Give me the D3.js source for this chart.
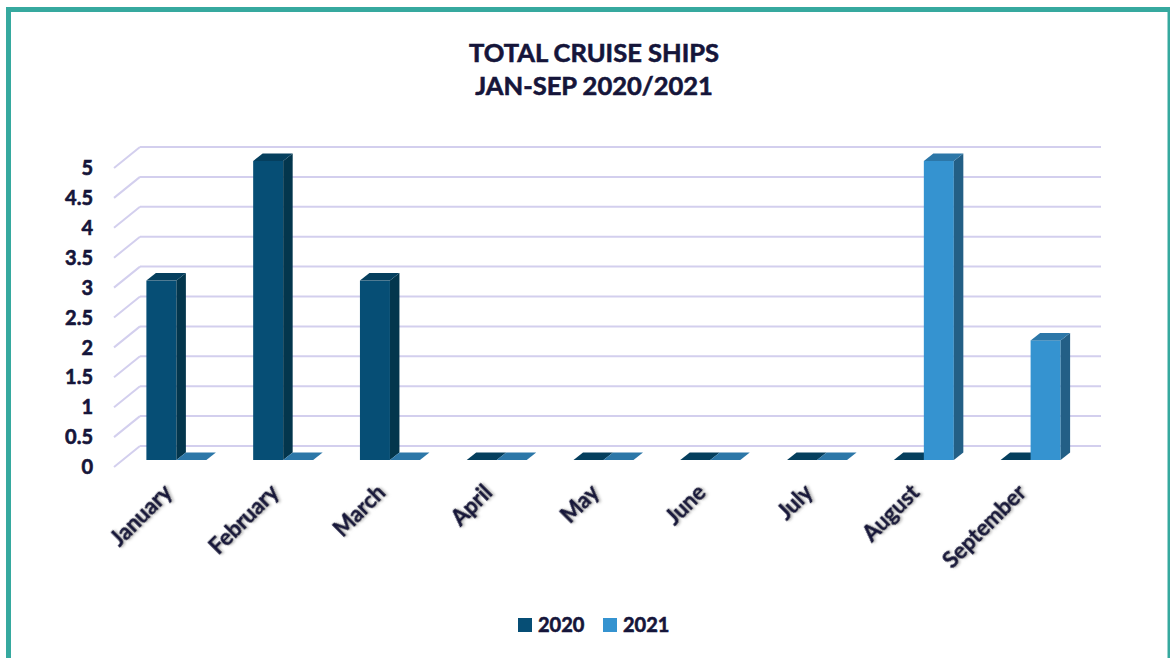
<!DOCTYPE html>
<html>
<head>
<meta charset="utf-8">
<script src="https://cdn.jsdelivr.net/npm/d3@7"></script>
<style>
  html, body { margin: 0; padding: 0; background: #fff; }
  svg { display: block; }
  text { font-family: Lato, "Open Sans", sans-serif; font-weight: 700; fill: #15153a; stroke: #15153a; stroke-width: 0.6px; }
</style>
</head>
<body>
<svg id="chart" width="1170" height="658"></svg>
<script>
// ---- data ----
const months = ["January","February","March","April","May","June","July","August","September"];
const series = ["2020","2021"];
const values2020 = [3,5,3,0,0,0,0,0,0];
const values2021 = [0,0,0,0,0,0,0,5,2];
const yTickValues = [0,0.5,1,1.5,2,2.5,3,3.5,4,4.5,5];
const yTickLabels = ["0","0.5","1","1.5","2","2.5","3","3.5","4","4.5","5"];
const titleLines = ["TOTAL CRUISE SHIPS","JAN-SEP 2020/2021"];

// ---- styles ----
const colors = {
  "2020": {front:"#064E75", side:"#03364D", top:"#053F5E"},
  "2021": {front:"#3593D0", side:"#235F86", top:"#2C77A8"}
};
const W = 1170, H = 658;
const depthX = 9.5, depthY = -7.5;   // bar depth
const gridBackDX = 17, gridBackDY = -14, gridFrontDX = -9, gridFrontDY = 7;

const svg = d3.select("#chart");

// defs: shadow for category labels
const defs = svg.append("defs");
const f = defs.append("filter").attr("id","shadow").attr("x","-20%").attr("y","-20%").attr("width","140%").attr("height","140%");
f.append("feDropShadow").attr("dx",1.5).attr("dy",1.5).attr("stdDeviation",0.8)
  .attr("flood-color","#888").attr("flood-opacity",0.55);

svg.append("rect").attr("width",W).attr("height",H).attr("fill","#fff");

// frame
svg.append("rect").attr("x",8.5).attr("y",9.5).attr("width",1161.5).attr("height",720)
  .attr("fill","none").attr("stroke","#36A99F").attr("stroke-width",5);

// scales
const x = d3.scaleBand().domain(months).range([123, 1084]);
const pairWidth = 60;
const x1 = d3.scaleBand().domain(series).range([0, pairWidth]);
const y = d3.scaleLinear().domain([0,5]).range([460,161]);

const plotLeft = x.range()[0];
const plotRight = x.range()[1];

// gridlines: back wall horizontal + left diagonal
const grid = svg.append("g");
yTickValues.forEach(v => {
  const yy = y(v);
  grid.append("line")
    .attr("x1", plotLeft + gridBackDX).attr("x2", plotRight + gridBackDX)
    .attr("y1", yy + gridBackDY).attr("y2", yy + gridBackDY)
    .attr("stroke","#D3CFEE").attr("stroke-width",2);
  grid.append("line")
    .attr("x1", plotLeft + gridFrontDX).attr("y1", yy + gridFrontDY)
    .attr("x2", plotLeft + gridBackDX).attr("y2", yy + gridBackDY)
    .attr("stroke","#D3CFEE").attr("stroke-width",2);
});

// y tick labels
svg.append("g").selectAll("text").data(yTickValues).join("text")
  .attr("x", 93).attr("y", d => y(d) + 9)
  .attr("text-anchor","end").attr("dominant-baseline","middle")
  .attr("font-size",20)
  .text((d,i) => yTickLabels[i]);

// bars
const data = [];
months.forEach((m,i) => {
  data.push({m, s:"2020", v: values2020[i]});
  data.push({m, s:"2021", v: values2021[i]});
});

const bars = svg.append("g");
data.forEach(d => {
  const bw = x1.bandwidth();
  const x0 = x(d.m) + (x.bandwidth() - pairWidth)/2 + x1(d.s);
  const yt = y(d.v), yb = y(0);
  const c = colors[d.s];
  const g = bars.append("g");
  if (d.v > 0) {
    g.append("rect").attr("x",x0).attr("y",yt).attr("width",bw).attr("height",yb-yt).attr("fill",c.front);
    g.append("polygon").attr("points",[
      [x0+bw,yt],[x0+bw+depthX,yt+depthY],[x0+bw+depthX,yb+depthY],[x0+bw,yb]
    ].map(p=>p.join(",")).join(" ")).attr("fill",c.side);
  }
  g.append("polygon").attr("points",[
    [x0,yt],[x0+depthX,yt+depthY],[x0+bw+depthX,yt+depthY],[x0+bw,yt]
  ].map(p=>p.join(",")).join(" ")).attr("fill",c.top);
});

// category labels
svg.append("g").selectAll("text").data(months).join("text")
  .attr("transform", d => `translate(${x(d) + x.bandwidth()/2 - 3},${494}) rotate(-45)`)
  .attr("text-anchor","end")
  .attr("font-size",22)
  .attr("filter","url(#shadow)")
  .text(d => d);

// title
svg.append("g").selectAll("text").data(titleLines).join("text")
  .attr("x", 594).attr("y", (d,i) => 62 + i*33)
  .attr("text-anchor","middle").attr("font-size",25.5)
  .text(d => d);

// legend
const legend = svg.append("g");
const legendX = [518, 603];
series.forEach((s,i) => {
  legend.append("rect").attr("x",legendX[i]).attr("y",618).attr("width",14).attr("height",14).attr("fill",colors[s].front);
  legend.append("text").attr("x",legendX[i]+20).attr("y",632).attr("font-size",20).text(s);
});
</script>
</body>
</html>
